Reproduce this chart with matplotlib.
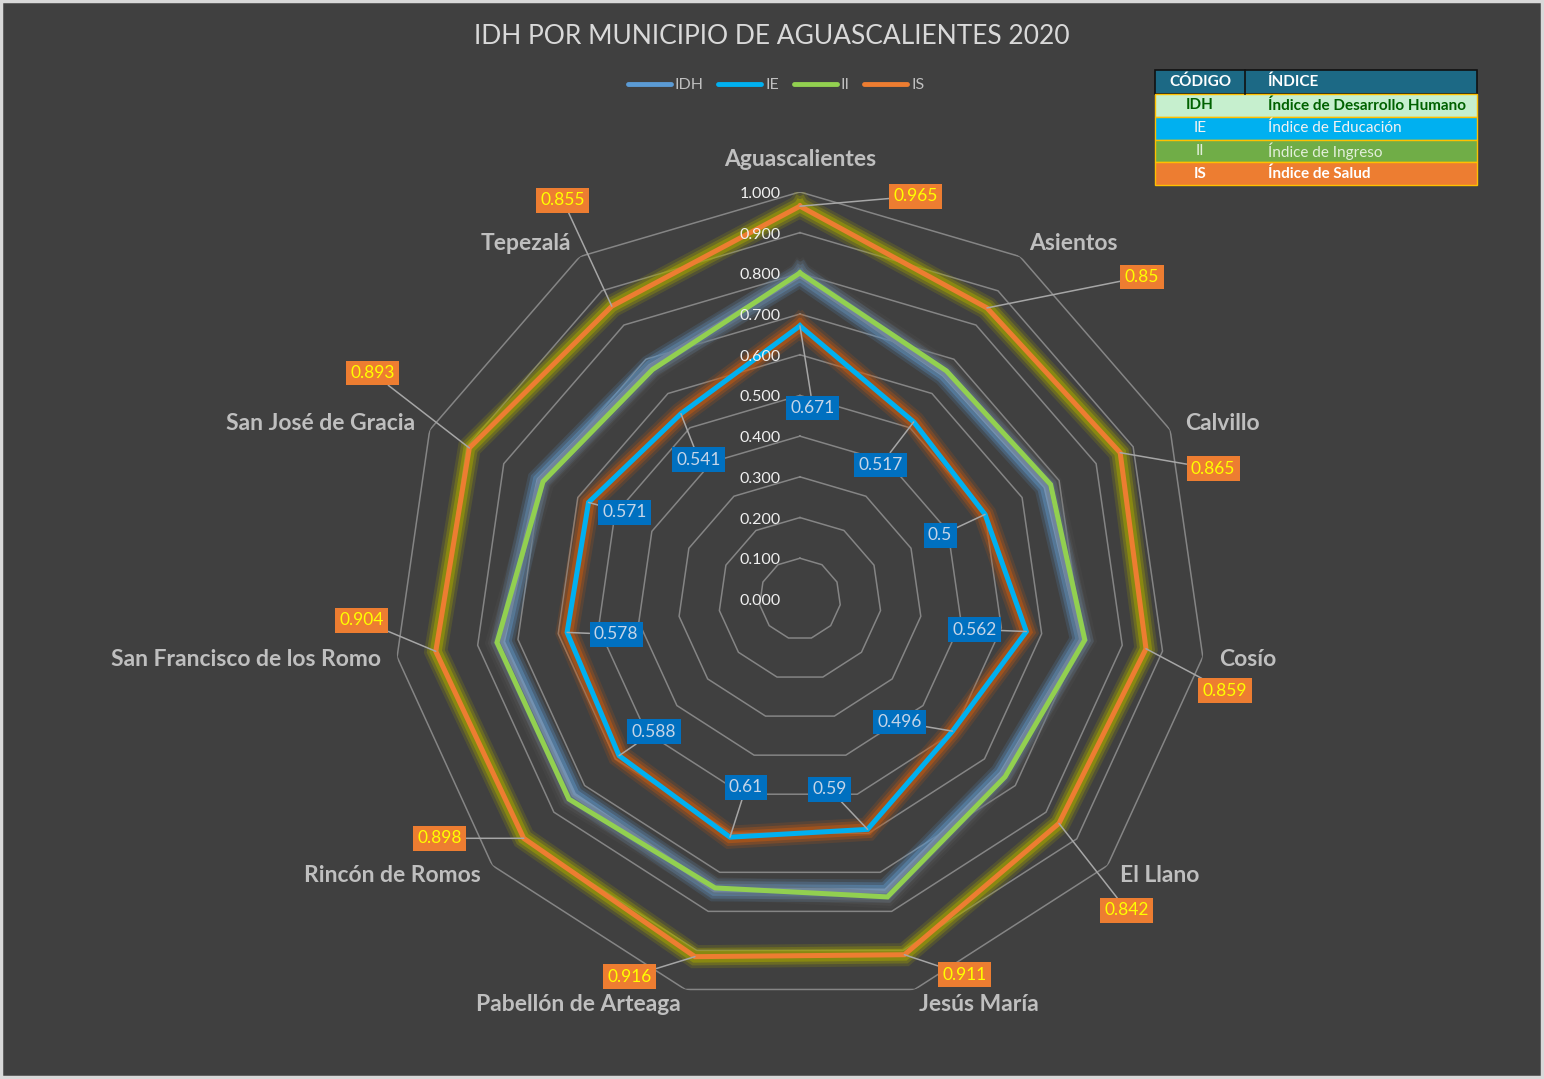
import numpy as np
import matplotlib
matplotlib.use("Agg")
import matplotlib.pyplot as plt
import matplotlib.patheffects as pe
from matplotlib.lines import Line2D
from matplotlib.patches import Rectangle

plt.rcParams['font.family'] = ['Lato', 'DejaVu Sans']

# data
municipios = ['Aguascalientes', 'Asientos', 'Calvillo', 'Cosío', 'El Llano', 'Jesús María',
              'Pabellón de Arteaga', 'Rincón de Romos', 'San Francisco de los Romo',
              'San José de Gracia', 'Tepezalá']
idh = [0.795, 0.655, 0.664, 0.699, 0.655, 0.748, 0.745, 0.735, 0.738, 0.705, 0.680]
ie = [0.671, 0.517, 0.5, 0.562, 0.496, 0.59, 0.61, 0.588, 0.578, 0.571, 0.541]
ii = [0.801, 0.666, 0.677, 0.707, 0.667, 0.763, 0.740, 0.751, 0.752, 0.694, 0.670]
is_ = [0.965, 0.85, 0.865, 0.859, 0.842, 0.911, 0.916, 0.898, 0.904, 0.893, 0.855]
series_names = ['IDH', 'IE', 'II', 'IS']
r_ticks = np.arange(0, 1.01, 0.1)

table_header = ['CÓDIGO', 'ÍNDICE']
table_codes = ['IDH', 'IE', 'II', 'IS']
table_names = ['Índice de Desarrollo Humano', 'Índice de Educación', 'Índice de Ingreso', 'Índice de Salud']

title = 'IDH POR MUNICIPIO DE AGUASCALIENTES 2020'

# label placement (pixel offsets from the point, y up)
ie_off = [(13, -82), (-33, -43), (-45, -21), (-52, 2), (-53, 9), (-38, 40),
          (16, 50), (35, 24), (49, -2), (36, -10), (18, -46)]
is_off = [(116, 10), (155, 31), (93, -16), (79, -42), (68, -87), (60, -20),
          (-65, -20), (-84, 0), (-74, 31), (-97, 75), (-49, 106)]

bg = '#404040'
fig = plt.figure(figsize=(15.44, 10.79), dpi=100, facecolor=bg)

ax = fig.add_axes([0.2545, 0.0677, 0.5272, 0.7544], projection='polar')
ax.set_theta_zero_location('N')
ax.set_theta_direction(-1)
ax.set_ylim(0, 1)
ax.set_axis_off()

n = len(municipios)
theta = np.linspace(0, 2 * np.pi, n, endpoint=False)
th = np.append(theta, theta[0])

def closed(v):
    return np.append(v, v[0])

# polygon grid
for t in r_ticks[1:]:
    ax.plot(th, [t] * (n + 1), color='#858585', lw=1.1, zorder=1)

def glow(c, w, a=1.0):
    return [pe.Stroke(linewidth=w + 13, foreground=c, alpha=0.18 * a),
            pe.Stroke(linewidth=w + 9, foreground=c, alpha=0.3 * a),
            pe.Stroke(linewidth=w + 5, foreground=c, alpha=0.5 * a),
            pe.Normal()]

styles = [
    (idh, '#78A2CF', '#5B9BD5', 0.9),
    (ie, '#00B0F0', '#C55A11', 1.0),
    (ii, '#92D050', '#6a6a6a', 0.6),
    (is_, '#ED7D31', '#A5A500', 1.0),
]
for k, (vals, col, gcol, ga) in enumerate(styles):
    ax.plot(th, closed(vals), color=col, lw=3.6, zorder=3 + k,
            solid_joinstyle='miter', path_effects=glow(gcol, 3.6, ga))

# radial tick labels
for t in r_ticks:
    ax.annotate(f'{t:.3f}', xy=(0, t), xytext=(-19, -2), textcoords='offset pixels',
                ha='right', va='center', fontsize=11.5, color='#F0F0F0', zorder=20)

# category labels
for i, name in enumerate(municipios):
    s, c = np.sin(theta[i]), np.cos(theta[i])
    if abs(s) < 0.05:
        off, ha = (0, 32), 'center'
    else:
        off, ha = (16 * s, 16 * c), ('left' if s > 0 else 'right')
    ax.annotate(name, xy=(theta[i], 1.0), xytext=off, textcoords='offset pixels',
                ha=ha, va='center', fontsize=16.5, fontweight='bold', color='#BFBFBF')

# data labels
lead = dict(arrowstyle='-', color='#A6A6A6', lw=1.1, shrinkA=0, shrinkB=0)
for i, v in enumerate(ie):
    ax.annotate(f'{v:g}', xy=(theta[i], v), xytext=ie_off[i], textcoords='offset pixels',
                ha='center', va='center', fontsize=12.5, color='#C5D5E8', zorder=30,
                bbox=dict(boxstyle='square,pad=0.25', fc='#0070C0', ec='none'),
                arrowprops=lead)
for i, v in enumerate(is_):
    ax.annotate(f'{v:g}', xy=(theta[i], v), xytext=is_off[i], textcoords='offset pixels',
                ha='center', va='center', fontsize=12.5, color='#FFFF00', zorder=30,
                bbox=dict(boxstyle='square,pad=0.25', fc='#ED7D31', ec='none'),
                arrowprops=lead)

# overlay for title, legend, table, border
ov = fig.add_axes([0, 0, 1, 1], zorder=-1)
ov.set_xlim(0, 1544)
ov.set_ylim(1079, 0)
ov.set_axis_off()

ov.text(772, 36, title, ha='center', va='center', fontsize=19, color='#D9D9D9')

handles = [Line2D([], [], color=c, lw=3.5, solid_capstyle='round') for _, c, _, _ in styles]
handles[0].set_color('#5B9BD5')
fig.legend(handles, series_names, loc='center', bbox_to_anchor=(776 / 1544, 1 - 85 / 1079),
           ncol=4, frameon=False, fontsize=11.5, labelcolor='#BFBFBF', handlelength=2.7,
           handletextpad=0.25, columnspacing=0.9)

# code table
x0, x1, x2 = 1155, 1245, 1477
hy, hh, rh = 70, 24, 22.75
ov.add_patch(Rectangle((x0, hy), x2 - x0, hh, fc='#1C6985', ec='#111111', lw=1.2))
ov.plot([x1, x1], [hy, hy + hh], color='#111111', lw=1.2)
ov.text((x0 + x1) / 2, hy + hh / 2, table_header[0], ha='center', va='center',
        fontsize=11, fontweight='bold', color='white')
ov.text(1268, hy + hh / 2, table_header[1], ha='left', va='center',
        fontsize=11, fontweight='bold', color='white')
fills = ['#C6EFCE', '#00B0F0', '#70AD47', '#ED7D31']
tcols = ['#006100', '#F2F2F2', '#E2EFDA', '#FFFFFF']
weights = ['bold', 'normal', 'normal', 'bold']
for j, (code, name) in enumerate(zip(table_codes, table_names)):
    y = hy + hh + j * rh
    ov.add_patch(Rectangle((x0, y), x2 - x0, rh, fc=fills[j], ec='#FFC000', lw=1))
    ov.text((x0 + x1) / 2, y + rh / 2, code, ha='center', va='center',
            fontsize=11, fontweight=weights[j], color=tcols[j])
    ov.text(1268, y + rh / 2, name, ha='left', va='center',
            fontsize=11, fontweight=weights[j], color=tcols[j])

ov.add_patch(Rectangle((1, 1), 1541, 1076, fill=False, ec='#D9D9D9', lw=2.5))

fig.savefig('out.png', dpi=100, facecolor=bg)
